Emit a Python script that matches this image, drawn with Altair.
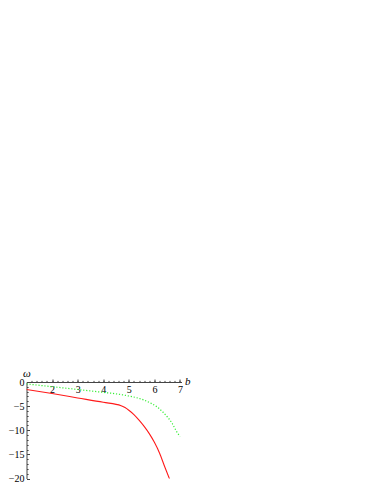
import altair as alt
import pandas as pd

# red solid curve
b_red = [1.0, 2.0, 3.0, 4.0, 4.7, 4.85, 5.0, 5.2, 5.4, 5.6, 5.8, 6.0, 6.2, 6.4, 6.6]
w_red = [-1.55, -2.4, -3.3, -4.2, -4.9, -5.3, -5.85, -6.75, -7.9, -9.2, -10.7, -12.5, -14.7, -17.5, -20.2]

# green dotted curve
b_green = [1.0, 2.0, 3.0, 4.0, 4.5, 5.0, 5.3, 5.6, 5.9, 6.1, 6.3, 6.5, 6.7, 6.85, 7.0]
w_green = [-0.4, -0.97, -1.55, -2.15, -2.45, -2.9, -3.25, -3.75, -4.5, -5.15, -6.05, -7.2, -8.6, -10.1, -11.3]

x_major = [2, 3, 4, 5, 6, 7]
x_minor = [round(1 + 0.2 * i, 2) for i in range(1, 31)]
y_major = [0, -5, -10, -15, -20]
y_minor = [-i for i in range(1, 20)]

W, H = 155, 96.5

red = pd.DataFrame({"b": b_red, "w": w_red})
green = pd.DataFrame({"b": b_green, "w": w_green})

xs = alt.Scale(domain=[1, 7.06], nice=False, zero=False)
ys = alt.Scale(domain=[-20, 0], nice=False, zero=False)

serif = "Liberation Serif, Times New Roman, serif"

red_line = alt.Chart(red).mark_line(color="#ff1a1a", strokeWidth=1.1, clip=True, interpolate="monotone").encode(
    x=alt.X("b:Q", scale=xs, axis=alt.Axis(
        orient="top", values=x_major, tickSize=3, labelPadding=-5, labelBaseline="top",
        labelAlign="center", format="d", title="b", titleX=W + 3, titleY=-1, grid=False,
        labelFont=serif, labelFontSize=10, labelColor="#000000",
        titleBaseline="middle", titleAlign="left", titleFont=serif, titleFontStyle="italic",
        titleFontWeight="normal", titleFontSize=11, labelFlush=False, labelOverlap=False)),
    y=alt.Y("w:Q", scale=ys, axis=alt.Axis(
        orient="right", offset=-W, values=y_major, tickSize=3, labelPadding=-5.5, grid=False,
        labelFont=serif, labelFontSize=10, labelColor="#000000",
        labelAlign="right", labelBaseline="middle", format="d", title="ω",
        titleAngle=0, titleX=0, titleY=-9, titleAlign="center", titleBaseline="middle",
        titleFont=serif, titleFontStyle="italic", titleFontWeight="normal", titleFontSize=11,
        labelFlush=False, labelOverlap=False)),
)

green_line = alt.Chart(green).mark_line(color="#33ee33", strokeWidth=1.2, strokeDash=[1.2, 1.8],
                                        clip=True, interpolate="monotone").encode(
    x=alt.X("b:Q", scale=xs, axis=alt.Axis(
        orient="top", values=x_minor, tickSize=1.6, labels=False, domain=False, title=None, grid=False)),
    y=alt.Y("w:Q", scale=ys, axis=alt.Axis(
        orient="right", offset=-W, values=y_minor, tickSize=1.6, labels=False, domain=False,
        title=None, grid=False)),
)

chart = alt.layer(red_line, green_line).resolve_axis(x="independent", y="independent").properties(
    width=W, height=H,
    background="white",
    autosize=alt.AutoSizeParams(type="none"),
    padding={"left": 18.5, "top": 374, "right": 178, "bottom": 8},
).configure_view(stroke=None, strokeWidth=0).configure_axis(
    grid=False, domainColor="#444444", tickColor="#444444", domainWidth=1, tickWidth=1,
    titleColor="#000000",
)

chart.save("out.html", embed_options={"renderer": "svg", "actions": False})
